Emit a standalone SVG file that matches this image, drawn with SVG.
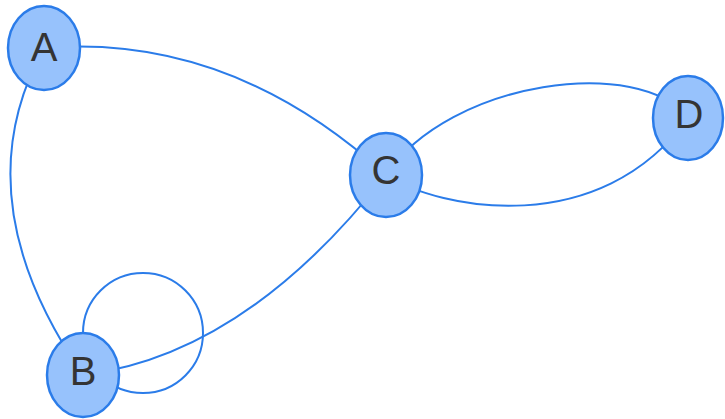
<svg xmlns="http://www.w3.org/2000/svg" width="725" height="419" viewBox="0 0 725 419">
<style>
.edge{fill:none;stroke:#2B7CE9;stroke-width:2}
.node ellipse{fill:#97C2FC;stroke:#2B7CE9;stroke-width:2.5}
.node text{font-family:"Liberation Sans",Arial,sans-serif;font-size:40px;fill:#343434;text-anchor:middle}
</style>
<rect width="725" height="419" fill="#ffffff"/>
<g id="edges">
<path class="edge" d="M44,48 Q-39,198 83,375"/>
<path class="edge" d="M44,48 Q230,33 386,175"/>
<path class="edge" d="M386,175 C450,80 640,55 688,118"/>
<path class="edge" d="M386,175 C440,210 600,240 688,118"/>
<path class="edge" d="M83,375 Q245,355 386,175"/>
<circle class="edge" cx="143" cy="333" r="60"/>
</g>
<g id="node-A" class="node"><ellipse cx="44" cy="48" rx="36" ry="42"/><text x="44" y="61">A</text></g>
<g id="node-B" class="node"><ellipse cx="83" cy="375" rx="36" ry="42"/><text x="83" y="385">B</text></g>
<g id="node-C" class="node"><ellipse cx="386" cy="175" rx="36" ry="42"/><text x="386" y="184">C</text></g>
<g id="node-D" class="node"><ellipse cx="688" cy="118" rx="35" ry="42"/><text x="689" y="128">D</text></g>
</svg>
